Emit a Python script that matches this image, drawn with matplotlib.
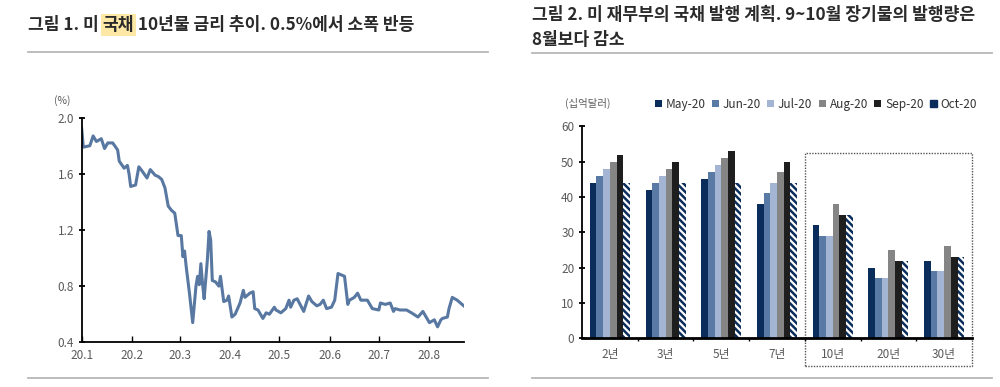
import numpy as np
import matplotlib.pyplot as plt
from matplotlib.patches import Rectangle

plt.rcParams['font.family'] = ['Noto Sans CJK KR', 'DejaVu Sans']
plt.rcParams['hatch.linewidth'] = 1.8

# 그림 1: 미 국채 10년물 금리 (day offset from 2020-01-01, %)
days = [0, 1, 5, 7, 9, 12, 14, 16, 19, 22, 23, 26, 28, 29, 30, 33, 35, 37, 40, 42,
        45, 47, 49, 51, 53, 55, 57, 59, 61, 62, 63, 64, 66, 68, 70, 71, 72, 73, 74, 75,
        77, 78, 79, 80, 82, 84, 85, 87, 89, 90, 92, 94, 97, 99, 100, 103, 105, 106, 108, 111,
        113, 115, 118, 119, 122, 125, 127, 128, 130, 132, 136, 139, 141, 144, 146, 148, 150, 153, 155, 157,
        161, 163, 164, 167, 169, 171, 175, 178, 182, 183, 186, 189, 191, 192, 195, 199, 202, 206, 209, 213,
        216, 218, 220, 221, 224, 225, 227, 230, 234]
yields = [1.92, 1.79, 1.80, 1.87, 1.83, 1.85, 1.78, 1.82, 1.82, 1.77, 1.69, 1.64, 1.66, 1.60, 1.51, 1.52, 1.65, 1.62, 1.57, 1.63,
          1.59, 1.58, 1.56, 1.50, 1.37, 1.34, 1.32, 1.16, 1.16, 1.01, 1.05, 0.94, 0.75, 0.54, 0.80, 0.87, 0.81, 0.96, 0.82, 0.71,
          0.99, 1.19, 1.13, 0.84, 0.83, 0.80, 0.87, 0.69, 0.70, 0.73, 0.58, 0.60, 0.68, 0.77, 0.72, 0.75, 0.76, 0.64, 0.63, 0.57,
          0.61, 0.60, 0.65, 0.63, 0.61, 0.64, 0.70, 0.65, 0.70, 0.71, 0.62, 0.73, 0.69, 0.66, 0.67, 0.70, 0.64, 0.65, 0.70, 0.89,
          0.87, 0.67, 0.70, 0.72, 0.75, 0.70, 0.70, 0.64, 0.63, 0.68, 0.67, 0.68, 0.62, 0.64, 0.63, 0.63, 0.61, 0.58, 0.62, 0.54,
          0.56, 0.51, 0.56, 0.57, 0.58, 0.64, 0.72, 0.70, 0.66]
month_starts = [0, 31, 60, 91, 121, 152, 182, 213]
month_labels = ['20.1', '20.2', '20.3', '20.4', '20.5', '20.6', '20.7', '20.8']

# 그림 2: 미 재무부 국채 발행 (십억달러)
tenors = ['2년', '3년', '5년', '7년', '10년', '20년', '30년']
months = ['May-20', 'Jun-20', 'Jul-20', 'Aug-20', 'Sep-20', 'Oct-20']
may20 = [44, 42, 45, 38, 32, 20, 22]
jun20 = [46, 44, 47, 41, 29, 17, 19]
jul20 = [48, 46, 49, 44, 29, 17, 19]
aug20 = [50, 48, 51, 47, 38, 25, 26]
sep20 = [52, 50, 53, 50, 35, 22, 23]
oct20 = [44, 44, 44, 44, 35, 22, 23]

navy = '#0b2d5b'
colors = [navy, '#5a7aa6', '#a3b5d2', '#858585', '#1e1e1e', 'white']
gray_txt = '#5a5a5a'

fig = plt.figure(figsize=(10, 3.87), dpi=100)

# ---- titles ----
def title_parts(x, y, parts):
    fig.canvas.draw()
    r = fig.canvas.get_renderer()
    for s, hl in parts:
        t = fig.text(x, y, s, fontsize=12.3, fontweight='bold', color='#2a2a2a',
                     va='center', ha='left')
        if hl:
            t.set_bbox(dict(facecolor='#fde8a6', edgecolor='none', pad=1.5))
        bb = t.get_window_extent(renderer=r)
        x += bb.width / fig.bbox.width

title_parts(0.028, 0.935, [('그림 1. 미 ', False), ('국채', True),
                           (' 10년물 금리 추이. 0.5%에서 소폭 반등', False)])
fig.text(0.532, 0.962, '그림 2. 미 재무부의 국채 발행 계획. 9~10월 장기물의 발행량은',
         fontsize=12.3, fontweight='bold', color='#2a2a2a', va='center')
fig.text(0.532, 0.897, '8월보다 감소', fontsize=12.3, fontweight='bold',
         color='#2a2a2a', va='center')

for x0, x1, y in [(0.028, 0.488, 1 - 52 / 387), (0.532, 0.992, 1 - 53 / 387),
                  (0.028, 0.488, 1 - 378 / 387), (0.532, 0.992, 1 - 378 / 387)]:
    fig.add_artist(plt.Line2D([x0, x1], [y, y], color='#b8b8b8', lw=1.3))

# ---- left chart ----
ax1 = fig.add_axes([0.0817, 0.1155, 0.382, 0.5805])
ax1.plot(days, yields, color='#5878a2', lw=2.2)
ax1.set_xlim(0, 234)
ax1.set_ylim(0.4, 2.0)
ax1.set_yticks([0.4, 0.8, 1.2, 1.6, 2.0])
ax1.set_yticklabels(['0.4', '0.8', '1.2', '1.6', '2.0'])
ax1.set_xticks(month_starts)
ax1.set_xticklabels(month_labels)
for s in ['top', 'right']:
    ax1.spines[s].set_visible(False)
for s in ['left', 'bottom']:
    ax1.spines[s].set_linewidth(1.3)
ax1.tick_params(axis='y', direction='inout', length=5, width=1.3, labelsize=8.5,
                labelcolor=gray_txt, pad=3)
ax1.tick_params(axis='x', direction='in', length=4, width=1.0, labelsize=8.5,
                labelcolor=gray_txt, pad=5)
fig.text(0.062, 1 - 101 / 387, '(%)', fontsize=7.5, color=gray_txt, ha='center', va='center')

# ---- right chart ----
ax2 = fig.add_axes([0.582, 0.1258, 0.39, 0.5478])
x = np.arange(len(tenors))
w = 0.12
series = [may20, jun20, jul20, aug20, sep20, oct20]
for i, (vals, lab, c) in enumerate(zip(series, months, colors)):
    pos = x + (i - 2.5) * w
    if lab == 'Oct-20':
        ax2.bar(pos, vals, w, color='white', edgecolor=navy, hatch='\\\\\\\\\\', lw=0, label=lab)
    else:
        ax2.bar(pos, vals, w, color=c, lw=0, label=lab)
ax2.set_xlim(-0.5, len(tenors) - 0.5)
ax2.set_ylim(0, 60)
ax2.set_yticks(range(0, 61, 10))
ax2.set_xticks(x)
ax2.set_xticklabels(tenors)
ax2.set_xticks(np.arange(0.5, len(tenors) - 0.5), minor=True)
for s in ['top', 'right']:
    ax2.spines[s].set_visible(False)
ax2.spines['left'].set_linewidth(1.3)
ax2.spines['bottom'].set_linewidth(2.0)
ax2.tick_params(axis='y', direction='inout', length=5, width=1.3, labelsize=8.5,
                labelcolor=gray_txt, pad=3)
ax2.tick_params(axis='x', which='major', length=0, labelsize=8.5, labelcolor=gray_txt, pad=7)
ax2.tick_params(axis='x', which='minor', direction='out', length=2, width=1.0)
fig.text(0.588, 1 - 103 / 387, '(십억달러)', fontsize=7.5, color=gray_txt, ha='center', va='center')

# long-term issuance box
ax2.add_patch(Rectangle((3.5, -7.7), 3.0, 60.1, fill=False, ls=(0, (1, 1)),
                        lw=1.0, edgecolor='#555555', clip_on=False))

handles, labels = ax2.get_legend_handles_labels()
handles[-1] = Rectangle((0, 0), 1, 1, color=navy)
ax2.legend(handles, labels, ncol=6, loc='center', bbox_to_anchor=(0.6, 1.105),
           frameon=False, fontsize=8.5, handlelength=0.6, handleheight=0.6,
           handletextpad=0.3, columnspacing=0.55, labelcolor='#333333')

fig.savefig('out.png', dpi=100)
